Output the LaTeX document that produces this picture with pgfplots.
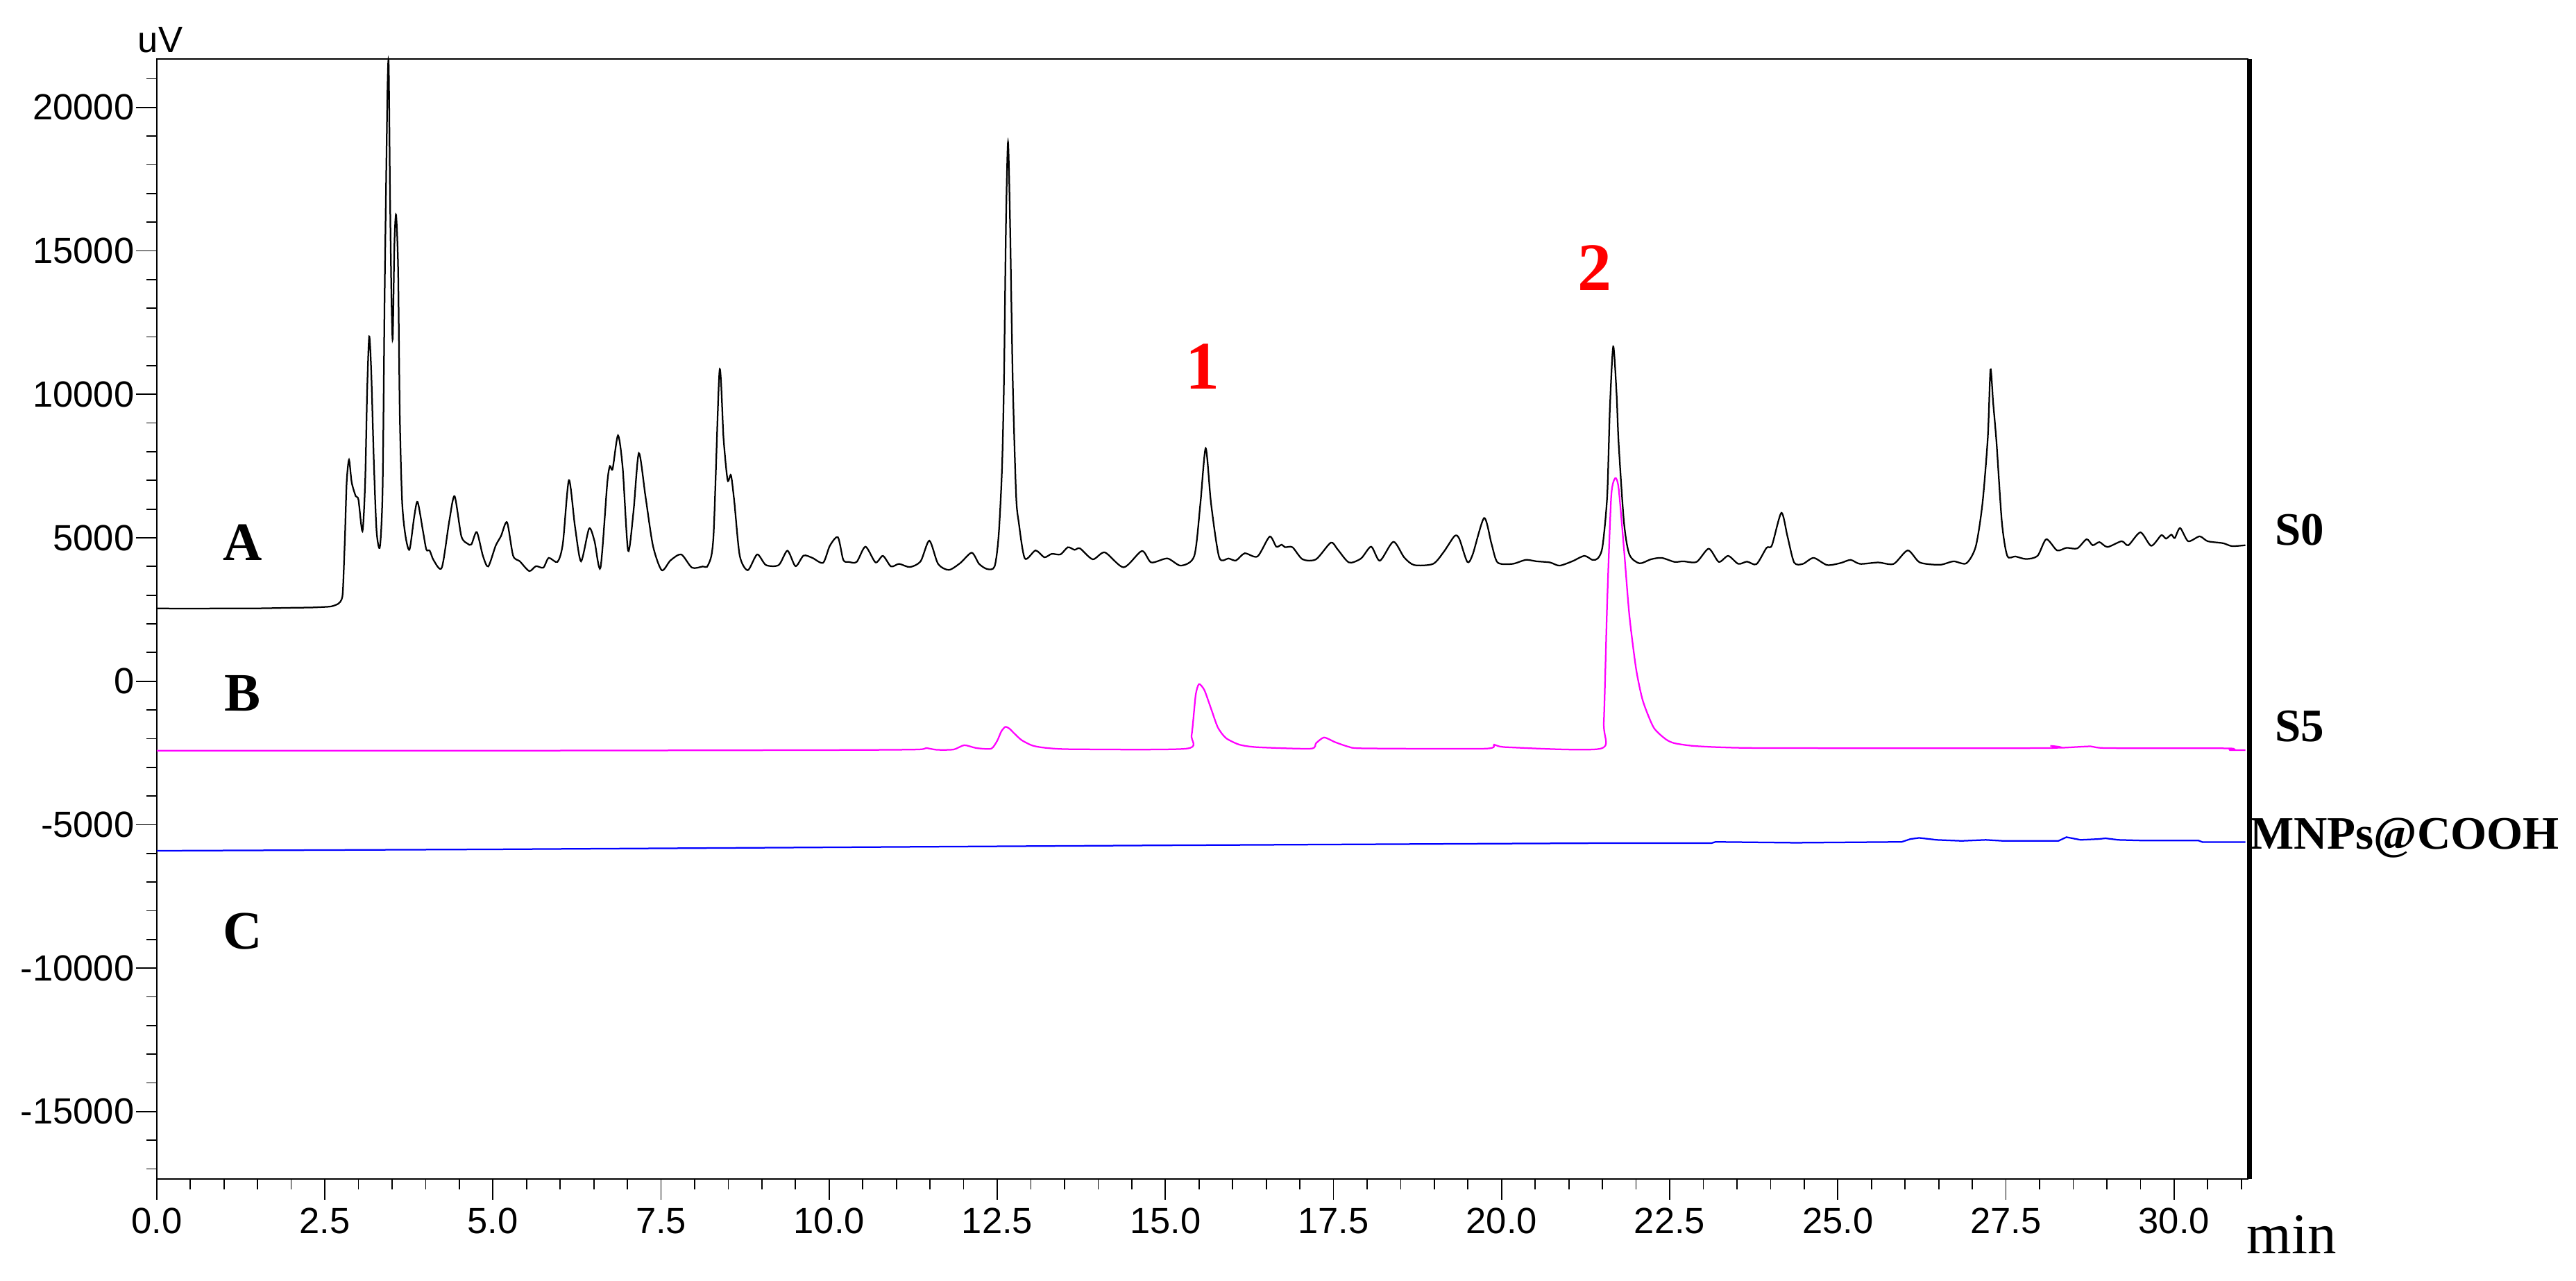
\documentclass[border=0pt]{standalone}
\usepackage{fontspec}
\setmainfont{Liberation Serif}
\newfontfamily\arial{Liberation Sans}
\usepackage{pgfplots}
\pgfplotsset{compat=1.18}
\definecolor{cS0}{RGB}{0,0,0}
\definecolor{cS5}{RGB}{255,0,255}
\definecolor{cMN}{RGB}{0,0,255}
\definecolor{cRed}{RGB}{255,0,0}
\begin{document}
\begin{tikzpicture}
\path[use as bounding box] (-45.16pt,-29.4pt) rectangle (697.24pt,339.8pt);
\begin{axis}[
  at={(0pt,0pt)}, anchor=south west,
  scale only axis, width=602.72pt, height=322.8pt,
  xmin=0, xmax=31.1, ymin=-17350, ymax=21690,
  axis line style={line width=0.4pt},
  xtick={0,2.5,...,30},
  minor xtick={0,0.5,...,31},
  ytick={-15000,-10000,...,20000},
  minor ytick={-17000,-16000,...,21000},
  scaled y ticks=false, scaled x ticks=false,
  tick align=outside, xtick pos=bottom, ytick pos=left,
  major tick length=6pt, minor tick length=3pt,
  every tick/.style={line width=0.35pt, black},
  /pgf/number format/assume math mode=true,
  xticklabel style={/pgf/number format/.cd, fixed, fixed zerofill, precision=1, /tikz/.cd, inner ysep=2.2pt},
  yticklabel style={/pgf/number format/.cd, fixed, 1000 sep={}, /tikz/.cd, inner xsep=0.3pt},
  ticklabel style={font=\arial\fontsize{10.5}{12}\selectfont},
  clip=false,
]
% S0 (black)
\addplot[cS0, line width=0.45pt, smooth, tension=0.45] coordinates {
(0,2540) (0.5,2530) (1.0,2540) (1.5,2540) (2.0,2560) (2.3,2570) (2.5,2590) (2.6,2610)
(2.7,2700) (2.75,2850) (2.77,3200) (2.80,5060) (2.825,6930) (2.86,7720) (2.90,6930)
(2.96,6450) (3.00,6330) (3.06,5230) (3.10,6930) (3.13,10150) (3.16,12020) (3.19,10830)
(3.23,7600) (3.27,5230) (3.32,4690) (3.36,6760) (3.39,13540) (3.43,20330) (3.45,21520)
(3.47,16940) (3.49,13540) (3.51,11930) (3.535,15240) (3.56,16260) (3.59,14390)
(3.615,9300) (3.65,6250) (3.70,5060) (3.76,4590) (3.83,5740) (3.88,6250) (3.96,5230)
(4.01,4590) (4.06,4550) (4.12,4210) (4.24,3960) (4.35,5570) (4.43,6450) (4.53,5060)
(4.62,4800) (4.68,4770) (4.76,5200) (4.85,4380) (4.93,4000) (5.04,4720) (5.12,5060)
(5.21,5540) (5.30,4380) (5.40,4180) (5.54,3840) (5.64,4010) (5.75,3960) (5.83,4300)
(5.96,4160) (6.04,4800) (6.13,7010) (6.22,5400) (6.31,4180) (6.43,5320) (6.51,4890)
(6.60,3960) (6.70,6900) (6.74,7500) (6.78,7400) (6.86,8570) (6.93,7430) (7.01,4550)
(7.09,5910) (7.17,7950) (7.27,6420) (7.38,4720) (7.51,3870) (7.64,4210) (7.80,4420)
(7.96,3960) (8.12,4000) (8.20,4050) (8.28,5060) (8.37,10830) (8.43,8450) (8.49,7010)
(8.54,7180) (8.59,6250) (8.67,4380) (8.79,3870) (8.93,4420) (9.06,4050) (9.25,4050)
(9.38,4550) (9.50,4010) (9.62,4380) (9.75,4300) (9.91,4130) (10.01,4720) (10.13,5020)
(10.21,4230) (10.29,4160) (10.41,4160) (10.54,4690) (10.69,4140) (10.80,4370)
(10.92,4000) (11.04,4090) (11.20,3980) (11.36,4180) (11.49,4900) (11.62,4090)
(11.78,3880) (11.95,4120) (12.12,4480) (12.23,4090) (12.35,3910) (12.46,4000)
(12.52,5060) (12.57,7380) (12.60,10500) (12.63,16000) (12.66,18800) (12.69,16000)
(12.73,10500) (12.78,6500) (12.82,5530) (12.91,4280) (13.07,4560) (13.20,4320)
(13.31,4440) (13.44,4420) (13.55,4670) (13.65,4580) (13.73,4630) (13.92,4250)
(14.10,4490) (14.38,3970) (14.65,4540) (14.79,4140) (15.03,4280) (15.23,4030)
(15.43,4370) (15.52,6180) (15.60,8120) (15.68,6180) (15.80,4320) (15.94,4280)
(16.05,4210) (16.18,4460) (16.37,4350) (16.55,5040) (16.65,4690) (16.73,4760)
(16.78,4670) (16.89,4670) (17.04,4250) (17.24,4250) (17.46,4830) (17.56,4600)
(17.73,4140) (17.91,4280) (18.06,4690) (18.19,4200) (18.39,4860) (18.55,4320)
(18.70,4050) (18.98,4090) (19.14,4510) (19.30,5060) (19.37,4970) (19.49,4160)
(19.57,4420) (19.74,5690) (19.85,4790) (19.94,4140) (20.16,4090) (20.36,4230)
(20.52,4180) (20.72,4140) (20.86,4030) (21.05,4180) (21.23,4370) (21.35,4230)
(21.43,4280) (21.50,4690) (21.57,6450) (21.61,9500) (21.66,11670) (21.71,10000)
(21.74,8310) (21.82,5530) (21.90,4420) (22.05,4110) (22.22,4250) (22.38,4300)
(22.57,4160) (22.70,4180) (22.90,4160) (23.08,4620) (23.23,4160) (23.37,4370)
(23.52,4090) (23.65,4170) (23.79,4080) (23.94,4650) (24.02,4740) (24.16,5870)
(24.25,5060) (24.35,4140) (24.48,4090) (24.64,4300) (24.84,4050) (25.04,4120)
(25.19,4230) (25.33,4090) (25.60,4140) (25.83,4090) (26.04,4560) (26.22,4140)
(26.52,4060) (26.72,4180) (26.91,4110) (27.05,4690) (27.15,6180) (27.23,8490)
(27.27,10860) (27.31,9700) (27.36,8310) (27.44,5530) (27.52,4370) (27.64,4350)
(27.80,4260) (27.97,4370) (28.10,4950) (28.26,4560) (28.40,4650) (28.56,4630)
(28.70,4950) (28.79,4740) (28.89,4850) (29.01,4680) (29.22,4880) (29.32,4740)
(29.50,5190) (29.66,4720) (29.81,5090) (29.88,4970) (29.96,5110) (30.01,4990)
(30.09,5340) (30.21,4880) (30.38,5050) (30.50,4880) (30.73,4810) (30.86,4710)
(31.06,4740)
};
% S5 (magenta)
\addplot[cS5, line width=0.45pt, smooth, tension=0.4] coordinates {
(0,-2420) (5,-2420) (10,-2400) (11.3,-2380) (11.44,-2330) (11.6,-2390) (11.85,-2380)
(12.01,-2230) (12.19,-2330) (12.41,-2350) (12.50,-2070) (12.56,-1750) (12.62,-1590)
(12.68,-1650) (12.74,-1790) (12.86,-2050) (13.02,-2240) (13.21,-2320) (13.61,-2370)
(15.31,-2350) (15.39,-1880) (15.45,-490) (15.50,-100) (15.58,-310) (15.68,-960)
(15.78,-1610) (15.90,-1980) (16.10,-2210) (16.37,-2300) (17.16,-2350) (17.24,-2160)
(17.36,-1960) (17.52,-2120) (17.72,-2280) (17.95,-2340) (19.75,-2350) (19.89,-2210)
(20.08,-2300) (21.47,-2350) (21.52,-1420) (21.57,2750) (21.63,6450) (21.69,7080)
(21.74,6730) (21.82,4600) (21.90,2290) (22.00,430) (22.10,-680) (22.26,-1610)
(22.44,-2020) (22.57,-2160) (22.83,-2250) (23.23,-2300) (24,-2330) (28.10,-2330)
(28.16,-2250) (28.30,-2320) (28.76,-2270) (29.0,-2330) (30.80,-2340) (30.83,-2400)
(31.06,-2400)
};
% MNPs@COOH (blue)
\addplot[cMN, line width=0.45pt] coordinates {
(0,-5910) (5,-5860) (10,-5790) (15,-5720) (20,-5660) (21.4,-5645) (23.12,-5645)
(23.18,-5600) (24.37,-5630) (25.95,-5600) (26.08,-5500) (26.21,-5460) (26.47,-5530)
(26.84,-5565) (27.2,-5530) (27.46,-5565) (28.28,-5565) (28.40,-5435) (28.61,-5530)
(28.88,-5500) (28.98,-5475) (29.17,-5530) (29.57,-5555) (30.36,-5550) (30.42,-5605)
(31.06,-5605)
};
% thick right frame line
\draw[line width=1.1pt] (axis cs:31.127,-17350) -- (axis cs:31.127,21690);
% labels
\node[anchor=base west, inner sep=0pt, font=\arial\fontsize{10.5}{12}\selectfont] at (axis cs:-0.287,21930) {uV};
\node[anchor=base west, inner sep=0pt, font=\fontsize{16.6}{19}\selectfont, yshift=-21.6pt] at (axis cs:31.075,-17350) {min};
\node[anchor=base, inner sep=0pt, font=\bfseries\fontsize{15.6}{18}\selectfont] at (axis cs:1.28,4213) {A};
\node[anchor=base, inner sep=0pt, font=\bfseries\fontsize{15.6}{18}\selectfont] at (axis cs:1.28,-1030) {B};
\node[anchor=base, inner sep=0pt, font=\bfseries\fontsize{15.6}{18}\selectfont] at (axis cs:1.28,-9330) {C};
\node[anchor=base west, inner sep=0pt, font=\bfseries\fontsize{13.4}{16}\selectfont] at (axis cs:31.49,4736) {S0};
\node[anchor=base west, inner sep=0pt, font=\bfseries\fontsize{13.4}{16}\selectfont] at (axis cs:31.49,-2090) {S5};
\node[anchor=base west, inner sep=0pt, font=\bfseries\fontsize{13.4}{16}\selectfont] at (axis cs:31.12,-5855) {MNPs@COOH};
\node[anchor=base, inner sep=0pt, text=cRed, font=\bfseries\fontsize{19.6}{22}\selectfont] at (axis cs:15.55,10200) {1};
\node[anchor=base, inner sep=0pt, text=cRed, font=\bfseries\fontsize{19.6}{22}\selectfont] at (axis cs:21.38,13630) {2};
\end{axis}
\end{tikzpicture}
\end{document}
